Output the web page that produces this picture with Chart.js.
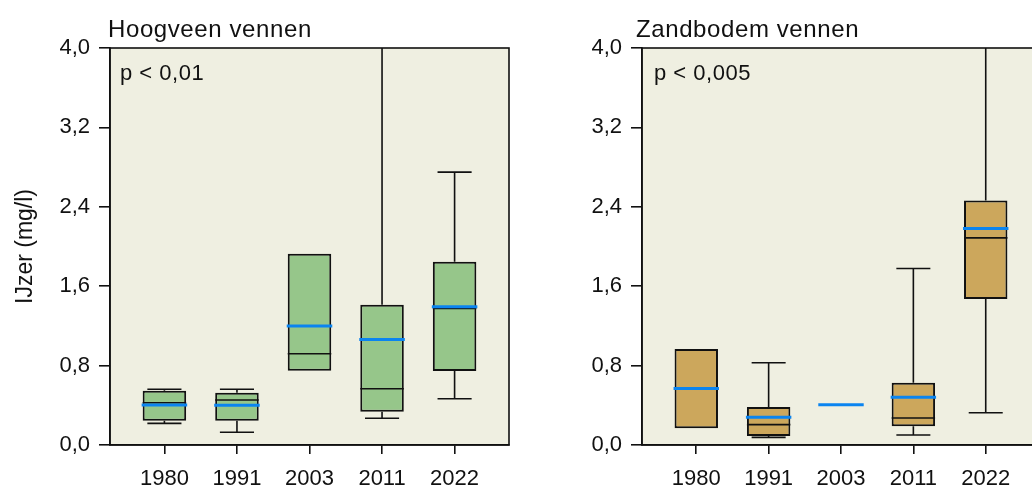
<!DOCTYPE html>
<html>
<head>
<meta charset="utf-8">
<script src="https://cdn.jsdelivr.net/npm/chart.js@4.4.1/dist/chart.umd.min.js"></script>
<style>
  html, body { margin: 0; padding: 0; background: #fff; overflow: hidden; width: 1032px; height: 489px; }
  canvas { position: absolute; top: 0; }
  #c1 { left: 0; }
  #c2 { left: 520px; }
</style>
</head>
<body>
<canvas id="c1" width="530" height="489"></canvas>
<canvas id="c2" width="520" height="489"></canvas>
<script>
const years = ['1980', '1991', '2003', '2011', '2022'];
const yTickValues = [0, 0.8, 1.6, 2.4, 3.2, 4.0];
const yTickLabels = ['0,0', '0,8', '1,6', '2,4', '3,2', '4,0'];

// Hoogveen vennen
const hoogMin    = [0.218, 0.128, null, 0.269, 0.466];
const hoogQ1     = [0.245, 0.245, 0.748, 0.335, 0.745];
const hoogMedian = [0.426, 0.453, 0.919, 0.567, 1.377];
const hoogQ3     = [0.547, 0.527, 1.927, 1.413, 1.846];
const hoogMax    = [0.561, 0.561, null, 4.6, 2.749];
const hoogMean   = [0.403, 0.400, 1.198, 1.064, 1.393];

// Zandbodem vennen
const zandMin    = [null, 0.077, null, 0.101, 0.325];
const zandQ1     = [0.168, 0.091, null, 0.188, 1.470];
const zandMedian = [null, 0.205, null, 0.272, 2.087];
const zandQ3     = [0.966, 0.383, null, 0.627, 2.463];
const zandMax    = [null, 0.829, null, 1.779, 4.6];
const zandMean   = [0.570, 0.279, 0.406, 0.480, 2.181];

const FONT = "'Liberation Sans', Arial, sans-serif";

function boxPlugin(title, pText, stats, titleShift, pShift) {
  return {
    id: 'boxExtras',
    beforeDraw(chart) {
      const a = chart.chartArea, ctx = chart.ctx;
      ctx.save();
      ctx.fillStyle = '#efefe1';
      ctx.fillRect(a.left, a.top, a.right - a.left, a.bottom - a.top);
      ctx.restore();
    },
    afterDatasetsDraw(chart) {
      const a = chart.chartArea, ctx = chart.ctx;
      const x = chart.scales.x, y = chart.scales.y;
      const boxHalf = (x.getPixelForValue(0.3) - x.getPixelForValue(0));
      const capHalf = (x.getPixelForValue(0.235) - x.getPixelForValue(0));
      ctx.save();
      ctx.beginPath();
      ctx.rect(a.left, a.top, a.right - a.left, a.bottom - a.top);
      ctx.clip();
      ctx.strokeStyle = '#111';
      ctx.lineWidth = 1.6;
      years.forEach((yr, i) => {
        const cx = x.getPixelForValue(i);
        // whiskers
        if (stats.max[i] != null) {
          const top = y.getPixelForValue(stats.max[i]);
          const q3 = y.getPixelForValue(stats.q3[i]);
          ctx.beginPath();
          ctx.moveTo(cx, q3); ctx.lineTo(cx, top);
          ctx.moveTo(cx - capHalf, top); ctx.lineTo(cx + capHalf, top);
          ctx.stroke();
        }
        if (stats.min[i] != null) {
          const bot = y.getPixelForValue(stats.min[i]);
          const q1 = y.getPixelForValue(stats.q1[i]);
          ctx.beginPath();
          ctx.moveTo(cx, q1); ctx.lineTo(cx, bot);
          ctx.moveTo(cx - capHalf, bot); ctx.lineTo(cx + capHalf, bot);
          ctx.stroke();
        }
        // median
        if (stats.median[i] != null) {
          const m = y.getPixelForValue(stats.median[i]);
          ctx.beginPath();
          ctx.moveTo(cx - boxHalf, m); ctx.lineTo(cx + boxHalf, m);
          ctx.stroke();
        }
      });
      // means
      ctx.strokeStyle = '#0a84f0';
      ctx.lineWidth = 3;
      years.forEach((yr, i) => {
        if (stats.mean[i] == null) return;
        const cx = x.getPixelForValue(i);
        const m = y.getPixelForValue(stats.mean[i]);
        ctx.beginPath();
        ctx.moveTo(cx - boxHalf - 1, m); ctx.lineTo(cx + boxHalf + 1, m);
        ctx.stroke();
      });
      ctx.restore();

      // frame
      ctx.save();
      ctx.strokeStyle = '#111';
      ctx.lineWidth = 1.6;
      ctx.strokeRect(a.left, a.top, a.right - a.left, a.bottom - a.top);
      ctx.restore();

      // texts
      ctx.save();
      ctx.fillStyle = '#111';
      ctx.textBaseline = 'alphabetic';
      ctx.font = '24px ' + FONT;
      ctx.letterSpacing = '0.6px';
      ctx.fillText(title, a.left + titleShift, 36.5);
      ctx.font = '22px ' + FONT;
      ctx.letterSpacing = '0.5px';
      ctx.fillText(pText, a.left + pShift, 80);
      ctx.restore();
    }
  };
}

function makeChart(id, title, pText, color, stats, axisWidth, padRight, showYTitle, titleShift, pShift) {
  const boxes = [];
  years.forEach((yr, i) => {
    if (stats.q1[i] != null) boxes.push({ x: i, y: [stats.q1[i], stats.q3[i]] });
  });
  return new Chart(document.getElementById(id), {
    type: 'bar',
    data: {
      datasets: [{
        label: title,
        data: boxes,
        backgroundColor: color,
        borderColor: '#111',
        borderWidth: 2,
        borderSkipped: false,
        barPercentage: 0.6,
        categoryPercentage: 1
      }]
    },
    options: {
      responsive: false,
      animation: false,
      devicePixelRatio: 1,
      layout: { padding: { top: 48, bottom: 0, left: 0, right: padRight } },
      plugins: { legend: { display: false }, tooltip: { enabled: false }, title: { display: false } },
      scales: {
        x: {
          type: 'linear',
          min: -0.75,
          max: 4.75,
          offset: false,
          afterBuildTicks: s => { s.ticks = years.map((_, i) => ({ value: i })); },
          afterFit: s => { s.height = 44; },
          ticks: {
            color: '#111',
            font: { family: FONT, size: 22 },
            padding: 12,
            maxRotation: 0,
            callback: v => years[v]
          },
          grid: { offset: false, drawOnChartArea: false, tickLength: 9, color: '#111', lineWidth: 1.6 },
          border: { color: '#111', width: 1.6 }
        },
        y: {
          min: 0,
          max: 4,
          afterBuildTicks: s => { s.ticks = yTickValues.map(v => ({ value: v })); },
          afterFit: s => { s.width = axisWidth; },
          ticks: {
            color: '#111',
            font: { family: FONT, size: 22 },
            padding: 9,
            callback: (v, idx) => yTickLabels[idx]
          },
          grid: { drawOnChartArea: false, tickLength: 11, color: '#111', lineWidth: 1.6 },
          border: { color: '#111', width: 1.6 },
          title: {
            display: showYTitle,
            text: 'IJzer (mg/l)',
            color: '#111',
            font: { family: FONT, size: 23 },
            padding: { top: 12, bottom: 0 }
          }
        }
      }
    },
    plugins: [boxPlugin(title, pText, stats, titleShift, pShift)]
  });
}

makeChart('c1', 'Hoogveen vennen', 'p < 0,01', '#96c68a',
  { min: hoogMin, q1: hoogQ1, median: hoogMedian, q3: hoogQ3, max: hoogMax, mean: hoogMean },
  110, 21, true, -2, 10);
makeChart('c2', 'Zandbodem vennen', 'p < 0,005', '#cca75c',
  { min: zandMin, q1: zandQ1, median: zandMedian, q3: zandQ3, max: zandMax, mean: zandMean },
  122, 0, false, -6, 12);
</script>
</body>
</html>
